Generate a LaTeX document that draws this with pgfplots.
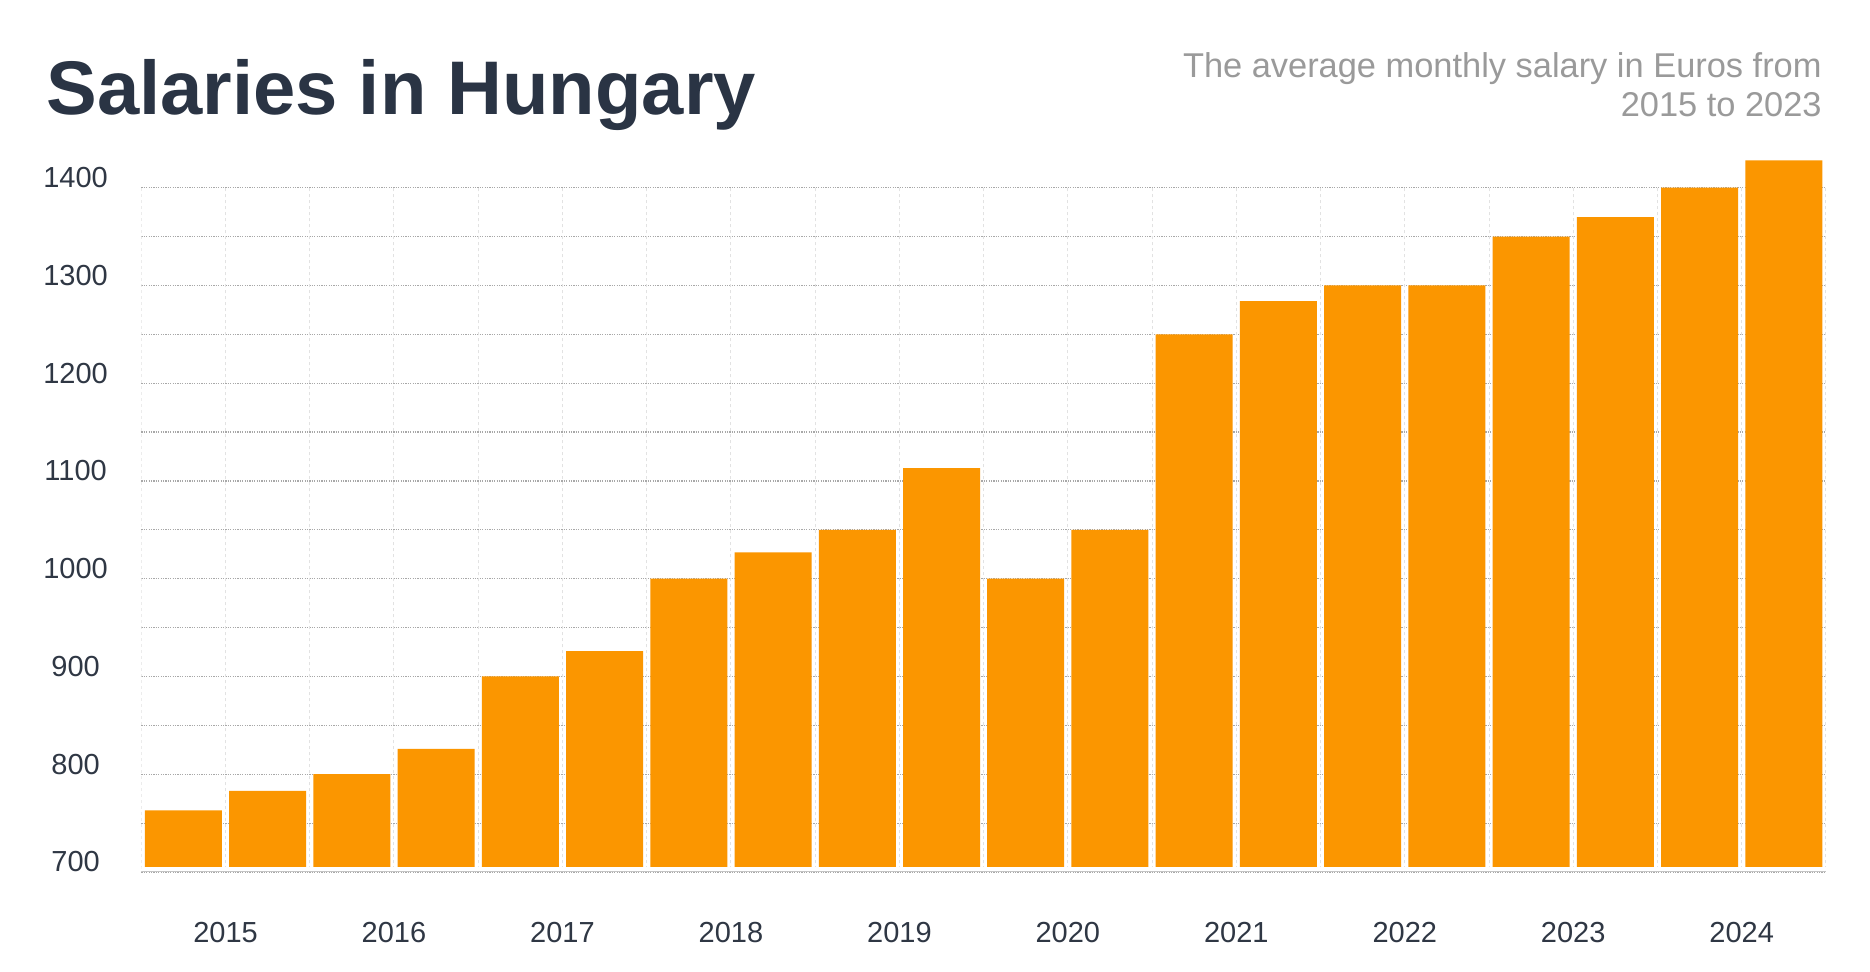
\documentclass[border=0pt]{standalone}
\usepackage{fontspec}
\setmainfont{Liberation Sans}
\usepackage{pgfplots}
\pgfplotsset{compat=1.18}
\definecolor{barc}{HTML}{FB9600}
\definecolor{titlec}{HTML}{2A3444}
\definecolor{tickc}{HTML}{2F3744}
\definecolor{subc}{HTML}{9A9A9A}
\definecolor{hgrid}{HTML}{A8A8A8}
\definecolor{vgrid}{HTML}{E2E2E2}
\definecolor{axc}{HTML}{C4C4C4}
\begin{document}
\begin{tikzpicture}[x=1bp,y=1bp]
\useasboundingbox[fill=white] (0,0) rectangle (935,486);
\node[anchor=base west, inner sep=0pt, text=titlec, font=\fontsize{38bp}{38bp}\selectfont\bfseries] at (23,428.5) {Salaries in Hungary};
\node[anchor=base east, inner sep=0pt, text=subc, font=\fontsize{17.2bp}{17.2bp}\selectfont] at (911,447.2) {The average monthly salary in Euros from};
\node[anchor=base east, inner sep=0pt, text=subc, font=\fontsize{17.2bp}{17.2bp}\selectfont] at (911,427.7) {2015 to 2023};
\begin{axis}[
  at={(70.65bp,50bp)}, anchor=south west,
  scale only axis, width=842.3bp, height=359.26bp,
  xmin=-0.5, xmax=19.5, ymin=700, ymax=1435,
  ybar, bar width=38.5bp,
  axis line style={draw=none},
  tick style={draw=none},
  major tick length=0pt, minor tick length=0pt,
  ytick={700,800,900,1000,1100,1200,1300,1400},
  yticklabels={700,800,900,1000,1100,1200,1300,1400},
  minor ytick={750,850,950,1050,1150,1250,1350},
  ymajorgrids, yminorgrids,
  major grid style={hgrid, line width=0.6bp, dash pattern=on 0.6bp off 0.6bp},
  minor grid style={hgrid, line width=0.6bp, dash pattern=on 0.6bp off 0.6bp},
  xtick={0.5,2.5,4.5,6.5,8.5,10.5,12.5,14.5,16.5,18.5},
  xticklabels={2015,2016,2017,2018,2019,2020,2021,2022,2023,2024},
  yticklabel style={anchor=base, inner sep=0pt, xshift=-32.85bp, text=tickc, font=\fontsize{14.5bp}{14.5bp}\selectfont},
  xticklabel style={anchor=base, inner sep=0pt, yshift=-35.5bp, text=tickc, font=\fontsize{14.5bp}{14.5bp}\selectfont},
]
\pgfplotsinvokeforeach{-0.5,0.5,...,19.5}{
  \draw[vgrid, line width=0.5bp, dash pattern=on 1.5bp off 1.5bp] (axis cs:#1,696.5) -- (axis cs:#1,1400);
}
\addplot[fill=barc, draw=none] coordinates {
(0,763) (1,783) (2,800) (3,826) (4,900) (5,926) (6,1000) (7,1027) (8,1050) (9,1113)
(10,1000) (11,1050) (12,1250) (13,1284) (14,1300) (15,1300) (16,1350) (17,1370) (18,1400) (19,1428)
};
\fill[white] (axis cs:-0.5,700) rectangle (axis cs:19.5,705.4);
\draw[axc, line width=0.9bp] (axis cs:-0.5,700) -- (axis cs:19.5,700);
\end{axis}
\end{tikzpicture}
\end{document}
